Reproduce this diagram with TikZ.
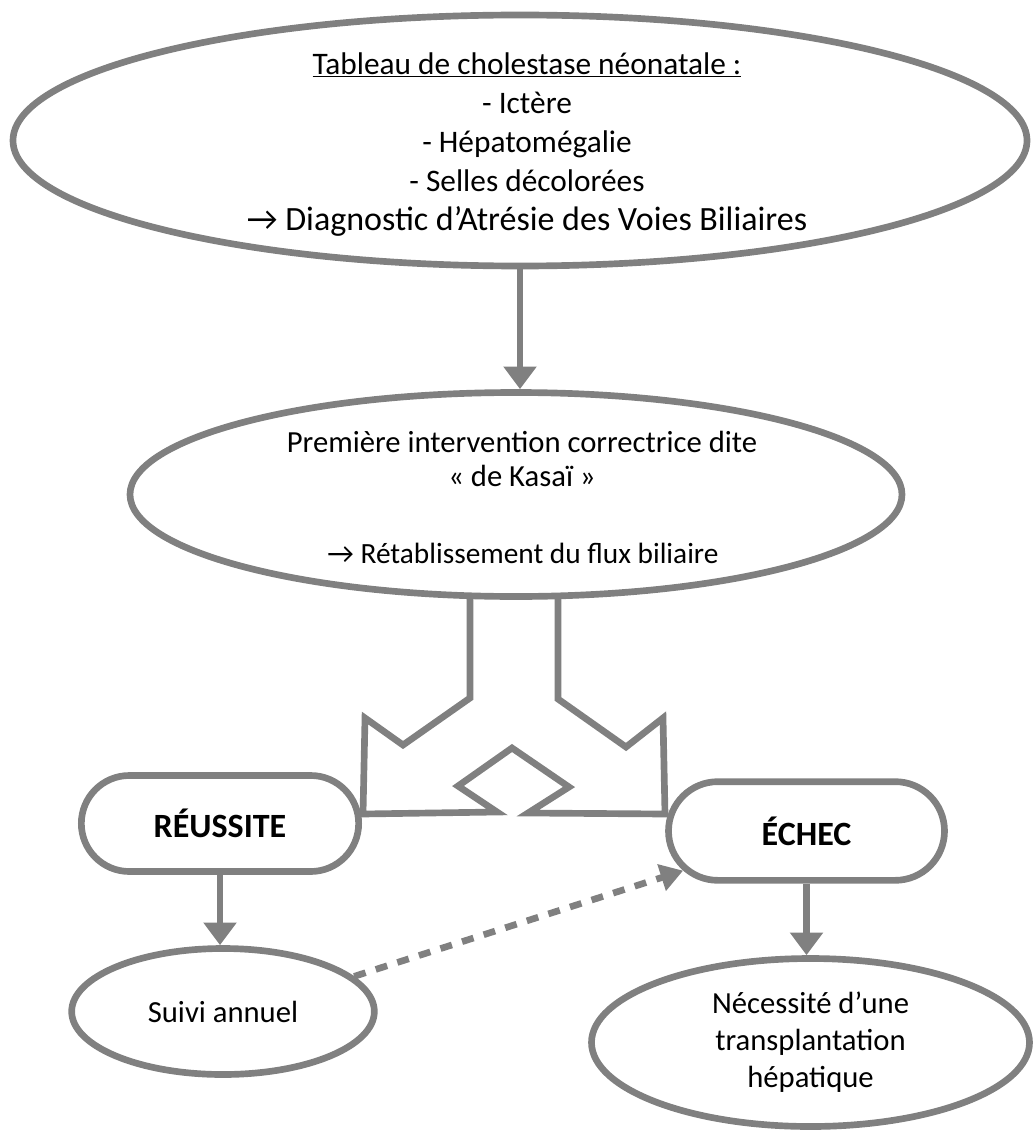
\documentclass[tikz,border=0pt]{standalone}
\usepackage{fontspec}
\setmainfont{Carlito}
\usetikzlibrary{shapes.geometric,shapes.misc,arrows.meta}
\definecolor{trait}{HTML}{808080}

\begin{document}
\begin{tikzpicture}[x=0.75pt, y=-0.75pt, every node/.style={inner sep=0pt}]
	\tikzstyle{oval}=[ellipse, draw=trait, line width=5pt, font=\fontsize{23}{27.75}\selectfont, align=center]
	\tikzstyle{capsule}=[rounded rectangle, draw=trait, line width=5pt, font=\fontsize{25.5}{30}\selectfont\bfseries]
	\tikzstyle{txt}=[align=center, font=\fontsize{23.5}{29.3}\selectfont]
	\tikzstyle{fleche}=[draw=trait, line width=5pt, -{Triangle[length=17pt, width=24pt]}]
	\tikzstyle{pointille}=[draw=trait, line width=5pt, dash pattern=on 9pt off 8pt, -{Triangle[length=17pt, width=20pt]}]
	\useasboundingbox (0,0) rectangle (1035,1141);
	\node[oval, minimum width=760.5pt, minimum height=188.25pt] (diag) at (520,140.5) {};
	\node[txt, anchor=north] (diagtxt) at (527,52) {\underline{Tableau de cholestase néonatale :}\\- Ictère\\- Hépatomégalie\\- Selles décolorées\\{\fontsize{25.5}{29.3}\selectfont → Diagnostic d’Atrésie des Voies Biliaires}};
	\node[oval, minimum width=579pt, minimum height=153pt] (kasai) at (516,494.5) {};
	\node[txt, anchor=north, font=\fontsize{23}{25.5}\selectfont] (kasaitxt) at (522,431) {Première intervention correctrice dite\\«~de Kasaï~»};
	\node[txt, anchor=base, font=\fontsize{22}{26}\selectfont] (flux) at (523,563) {→ Rétablissement du flux biliaire};
	\node[capsule, minimum width=208pt, minimum height=72pt] (reussite) at (220,823.5) {RÉUSSITE};
	\node[capsule, minimum width=207pt, minimum height=74pt] (echec) at (806.5,831) {ÉCHEC};
	\node[oval, minimum width=227pt, minimum height=94.5pt] (suivi) at (223,1011.5) {Suivi annuel};
	\node[oval, minimum width=328.5pt, minimum height=126pt] (greffe) at (810.5,1042.5) {Nécessité d’une\\transplantation\\hépatique};
	\draw[fleche] (diag.south) -- (diag.south |- kasai.north);
	\draw[draw=trait, line width=5pt] (470,596) -- (470,698) -- (403,745) -- (365,718) -- (363,814) -- (497,812) -- (458,786) -- (512,748) -- (569,787) -- (528,813) -- (665,814) -- (663,718) -- (626,747) -- (558,699) -- (558,596);
	\draw[fleche] (reussite.south) -- (reussite.south |- suivi.north);
	\draw[fleche] (echec.south) -- (echec.south |- greffe.north);
	\draw[pointille] (suivi.15) -- (echec);
\end{tikzpicture}
\end{document}
